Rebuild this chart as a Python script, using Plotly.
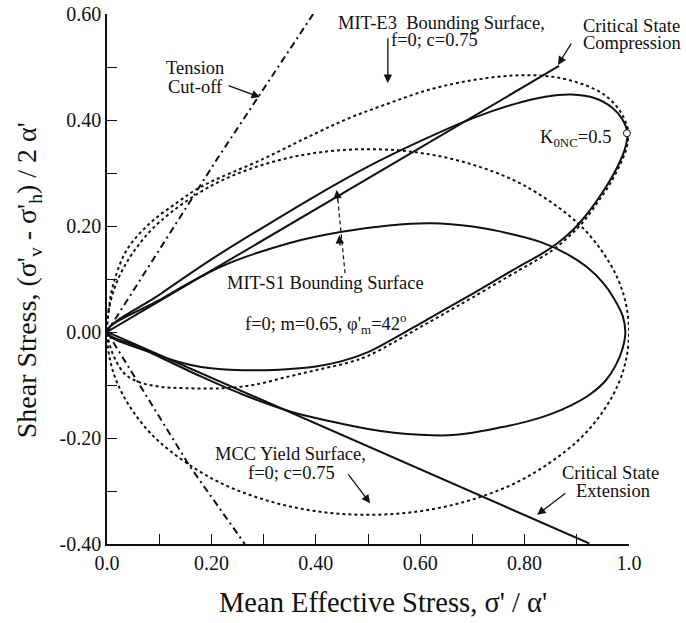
import plotly.graph_objects as go

# ---------------- data ----------------
# Critical state lines (through origin)
csl_comp_x = [0.0, 0.866]
csl_comp_y = [0.0, 0.502]
csl_ext_x = [0.0, 0.924]
csl_ext_y = [0.0, -0.399]

# Tension cut-off (dash-dot)
tension_x = [0.395, 0.21, 0.0, 0.159, 0.264]
tension_y = [0.600, 0.325, 0.0, -0.254, -0.400]

# MIT-S1 bounding surface, outer (solid)
s1a_x = [0.0, 0.10, 0.20, 0.30, 0.40, 0.50, 0.60, 0.70, 0.78, 0.84, 0.89, 0.935, 0.968, 0.988,
         0.997, 0.993, 0.980, 0.960, 0.940, 0.915, 0.890, 0.861, 0.830, 0.790, 0.700, 0.650,
         0.600, 0.550, 0.500, 0.450, 0.400, 0.330, 0.260, 0.180, 0.110, 0.050, 0.0]
s1a_y = [0.0, 0.070, 0.137, 0.198, 0.257, 0.312, 0.360, 0.403, 0.430, 0.444, 0.448, 0.441,
         0.423, 0.400, 0.375, 0.348, 0.316, 0.280, 0.250, 0.217, 0.190, 0.166, 0.146, 0.124,
         0.072, 0.044, 0.016, -0.012, -0.038, -0.055, -0.065, -0.071, -0.072, -0.066, -0.048,
         -0.024, 0.0]

# MIT-S1 bounding surface, inner (solid)
s1b_x = [0.0, 0.10, 0.22, 0.35, 0.45, 0.54, 0.62, 0.70, 0.77, 0.83, 0.88, 0.92, 0.95, 0.972,
         0.988, 0.993, 0.988, 0.975, 0.955, 0.925, 0.890, 0.850, 0.800, 0.749, 0.700, 0.653,
         0.600, 0.550, 0.500, 0.430, 0.351, 0.260, 0.178, 0.090, 0.0]
s1b_y = [0.0, 0.060, 0.124, 0.168, 0.189, 0.201, 0.205, 0.199, 0.186, 0.170, 0.148, 0.122,
         0.093, 0.062, 0.030, 0.000, -0.030, -0.062, -0.092, -0.118, -0.138, -0.155, -0.170,
         -0.181, -0.190, -0.195, -0.194, -0.190, -0.183, -0.169, -0.150, -0.118, -0.083,
         -0.042, 0.0]

# MIT-E3 bounding surface (dotted)
e3_x = [0.0, 0.003, 0.012, 0.038, 0.082, 0.134, 0.18, 0.30, 0.40, 0.465, 0.53, 0.62, 0.70,
        0.78, 0.85, 0.91, 0.955, 0.982, 0.995, 0.999, 0.995, 0.982, 0.962, 0.940, 0.915, 0.889,
        0.860, 0.829, 0.790, 0.700, 0.650, 0.600, 0.550, 0.500, 0.465, 0.400, 0.344, 0.280,
        0.223, 0.150, 0.100, 0.063, 0.035, 0.015, 0.004, 0.0]
e3_y = [0.0, 0.040, 0.090, 0.155, 0.205, 0.244, 0.274, 0.327, 0.375, 0.404, 0.428, 0.458,
        0.475, 0.484, 0.482, 0.468, 0.446, 0.418, 0.392, 0.375, 0.346, 0.314, 0.277, 0.245,
        0.211, 0.184, 0.159, 0.139, 0.117, 0.065, 0.037, 0.009, -0.019, -0.045, -0.057,
        -0.072, -0.085, -0.100, -0.106, -0.106, -0.103, -0.095, -0.080, -0.050, -0.020, 0.0]

# MCC yield surface (dotted)
mcc_x = [0.0, 0.005, 0.02, 0.05, 0.10, 0.20, 0.30, 0.40, 0.50, 0.60, 0.70, 0.80, 0.90, 0.95,
         0.98, 0.995, 1.0, 0.995, 0.98, 0.95, 0.90, 0.80, 0.70, 0.60, 0.50, 0.40, 0.30, 0.20,
         0.10, 0.05, 0.02, 0.005, 0.0]
mcc_y = [0.0, 0.049, 0.097, 0.150, 0.207, 0.276, 0.316, 0.338, 0.345, 0.338, 0.316, 0.276, 0.207,
         0.150, 0.097, 0.049, 0.0, -0.049, -0.097, -0.150, -0.207, -0.276, -0.316, -0.338,
         -0.345, -0.338, -0.316, -0.276, -0.207, -0.150, -0.097, -0.049, 0.0]

# K0NC point
k0_x = [0.996]
k0_y = [0.375]

x_tickvals = [0.0, 0.2, 0.4, 0.6, 0.8, 1.0]
x_ticktext = ["0.0", "0.20", "0.40", "0.60", "0.80", "1.0"]
y_tickvals = [-0.4, -0.2, 0.0, 0.2, 0.4, 0.6]
y_ticktext = ["-0.40", "-0.20", "0.00", "0.20", "0.40", "0.60"]

# ---------------- figure ----------------
FONT = "Liberation Serif, Times New Roman, serif"
BLACK = "#111111"
Y0, Y1 = -0.4, 0.6

fig = go.Figure()

def add_line(x, y, dash="solid", width=2.0, shape="spline"):
    line = dict(color=BLACK, width=width, dash=dash, shape=shape)
    if shape == "spline":
        line["smoothing"] = 1.0
    fig.add_trace(go.Scatter(x=x, y=y, mode="lines", line=line,
                             hoverinfo="skip", showlegend=False))

add_line(mcc_x, mcc_y, dash="dot", width=2.0)
add_line(e3_x, e3_y, dash="dot", width=2.0)
add_line(tension_x, tension_y, dash="7px,4px,2px,4px", width=2.0, shape="linear")
add_line(csl_comp_x, csl_comp_y, width=2.0, shape="linear")
add_line(csl_ext_x, csl_ext_y, width=2.0, shape="linear")
add_line(s1a_x, s1a_y, width=2.0)
add_line(s1b_x, s1b_y, width=2.0)

fig.add_trace(go.Scatter(x=k0_x, y=k0_y, mode="markers",
                         marker=dict(symbol="circle", size=7, color="white",
                                     line=dict(color=BLACK, width=1)),
                         hoverinfo="skip", showlegend=False, cliponaxis=False))

def py(v):
    return (v - Y0) / (Y1 - Y0)

# text labels (positions in axis units, converted to paper)
labels = [
    ("Tension", 0.1686, 0.498, "center"),
    ("Cut-off", 0.1686, 0.462, "center"),
    ("MIT-E3  Bounding Surface,", 0.640, 0.583, "center"),
    ("f=0; c=0.75", 0.628, 0.551, "center"),
    ("Critical State", 1.0996, 0.577, "right"),
    ("Compression", 1.1015, 0.545, "right"),
    ("MIT-S1 Bounding Surface", 0.4195, 0.0925, "center"),
    ("f=0; m=0.65, \u03c6'<sub>m</sub>=42<sup>o</sup>", 0.4195, 0.016, "center"),
    ("MCC Yield Surface,", 0.3506, -0.230, "center"),
    ("f=0; c=0.75", 0.3544, -0.266, "center"),
    ("Critical State", 0.9655, -0.266, "center"),
    ("Extension", 0.9693, -0.300, "center"),
]
for t, x, y, anc in labels:
    fig.add_annotation(x=x, y=py(y), xref="paper", yref="paper", text=t, showarrow=False,
                       xanchor=anc, yanchor="middle", borderpad=0,
                       font=dict(family=FONT, size=18.5, color=BLACK))

fig.add_annotation(x=0.969, y=py(0.365), xref="paper", yref="paper",
                   text="K<sub>0NC</sub>=0.5", showarrow=False,
                   xanchor="right", yanchor="middle",
                   font=dict(family=FONT, size=18.5, color=BLACK))

# arrows (tail -> tip)
arrows = [
    ((0.2299, 0.466), (0.2931, 0.443)),
    ((0.538, 0.557), (0.538, 0.470)),
    ((0.891, 0.547), (0.864, 0.504)),
    ((0.460, -0.266), (0.504, -0.323)),
    ((0.881, -0.302), (0.824, -0.345)),
    ((0.4425, 0.245), (0.440, 0.268)),
    ((0.4465, 0.160), (0.445, 0.183)),
]
for (tx, ty), (hx, hy) in arrows:
    fig.add_annotation(x=hx, y=hy, ax=tx, ay=ty, xref="x", yref="y", axref="x", ayref="y",
                       text="", showarrow=True, arrowhead=2, arrowsize=1.3, arrowwidth=1.3,
                       arrowcolor=BLACK)

# dashed shaft for MIT-S1 arrows
fig.add_shape(type="line", x0=0.456, y0=0.111, x1=0.441, y1=0.262, xref="x", yref="y",
              line=dict(color=BLACK, width=1.2, dash="4px,3px"))

# axis titles
fig.add_annotation(xref="paper", yref="paper", x=0.529, y=-0.111,
                   text="Mean Effective Stress, \u03c3' / \u03b1'", showarrow=False,
                   xanchor="center", yanchor="middle",
                   font=dict(family=FONT, size=28.5, color=BLACK))
fig.add_annotation(xref="paper", yref="paper", x=-0.151, y=0.498,
                   text="Shear Stress, (\u03c3'<sub>v</sub> - \u03c3'<sub>h</sub>) / 2 \u03b1'",
                   showarrow=False, textangle=-90, xanchor="center", yanchor="middle",
                   font=dict(family=FONT, size=28, color=BLACK))

fig.update_xaxes(range=[0, 1.0], tickvals=x_tickvals, ticktext=x_ticktext,
                 ticks="inside", ticklen=10, tickwidth=1.2, tickcolor=BLACK,
                 minor=dict(dtick=0.1, tick0=0, ticks="inside", ticklen=10, tickwidth=1.2,
                            tickcolor=BLACK),
                 showline=True, linecolor=BLACK, linewidth=1.5, showgrid=False, zeroline=False,
                 tickfont=dict(family=FONT, size=20, color=BLACK), ticklabelstandoff=0,
                 ticklabeloverflow="allow", automargin=False)
fig.update_yaxes(range=[Y0, Y1], tickvals=y_tickvals, ticktext=y_ticktext,
                 ticks="inside", ticklen=10, tickwidth=1.2, tickcolor=BLACK,
                 minor=dict(dtick=0.1, tick0=0, ticks="inside", ticklen=10, tickwidth=1.2,
                            tickcolor=BLACK),
                 showline=True, linecolor=BLACK, linewidth=1.5, showgrid=False, zeroline=False,
                 tickfont=dict(family=FONT, size=20, color=BLACK), ticklabelstandoff=0,
                 ticklabeloverflow="allow", automargin=False)

fig.update_layout(width=686, height=623, margin=dict(l=107, r=57, t=14, b=79),
                  plot_bgcolor="white", paper_bgcolor="white", showlegend=False)

# remove the default 8px page margin so the figure sits at the window's top-left corner
fig.write_html("out.html", config={"displayModeBar": False},
               post_script="document.body.style.margin='0px';")
